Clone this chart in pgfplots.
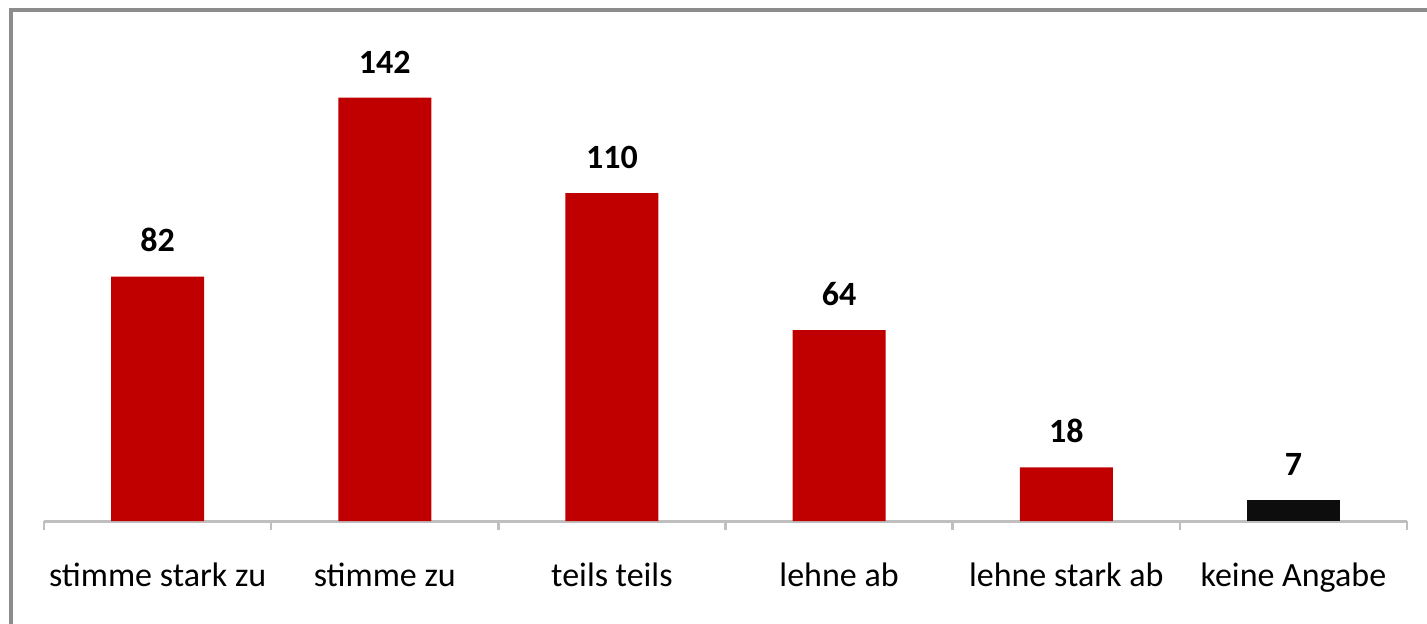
\documentclass[border=0pt]{standalone}
\usepackage{pgfplots}
\pgfplotsset{compat=1.18}
\usepackage{fontspec}
\setmainfont{Carlito}
\definecolor{barred}{HTML}{C00000}
\definecolor{barblack}{HTML}{0D0D0D}
\definecolor{axgray}{HTML}{BFBFBF}
\definecolor{framegray}{HTML}{8C8C8C}
\begin{document}
\begin{tikzpicture}
\useasboundingbox (-22pt,-51pt) rectangle (691.5pt,260.5pt);
\draw[framegray, line width=1.6pt] (-16.5pt,-80pt) -- (-16.5pt,255.5pt) -- (720pt,255.5pt);
\begin{axis}[
  at={(0,0)}, anchor=south west,
  scale only axis,
  width=681.5pt, height=238.5pt,
  xmin=-0.5, xmax=5.5, ymin=0, ymax=160,
  axis y line=none,
  axis x line*=bottom,
  x axis line style={draw=axgray, line width=1.5pt},
  xtick={0,1,2,3,4,5},
  xticklabels={stimme stark zu, stimme zu, teils teils, lehne ab, lehne stark ab, keine Angabe},
  major tick length=0pt,
  minor xtick={-0.5,0.5,1.5,2.5,3.5,4.5,5.5},
  minor tick length=4.5pt,
  xtick align=outside,
  minor tick style={draw=axgray, line width=1.2pt},
  xticklabel style={font=\fontsize{17}{20}\selectfont, inner sep=0pt, text height=12.5pt, text depth=4pt, anchor=north, yshift=-20pt},
  /pgf/number format/assume math mode=true,
  ybar, bar width=46.5pt, bar shift=0pt,
  nodes near coords,
  every node near coord/.append style={font=\bfseries\fontsize{17}{20}\selectfont, text=black, inner sep=0pt, yshift=12pt},
  clip=false,
]
\addplot[fill=barred, draw=none] coordinates {(0,82) (1,142) (2,110) (3,64) (4,18)};
\addplot[fill=barblack, draw=none] coordinates {(5,7)};
\end{axis}
\end{tikzpicture}
\end{document}
